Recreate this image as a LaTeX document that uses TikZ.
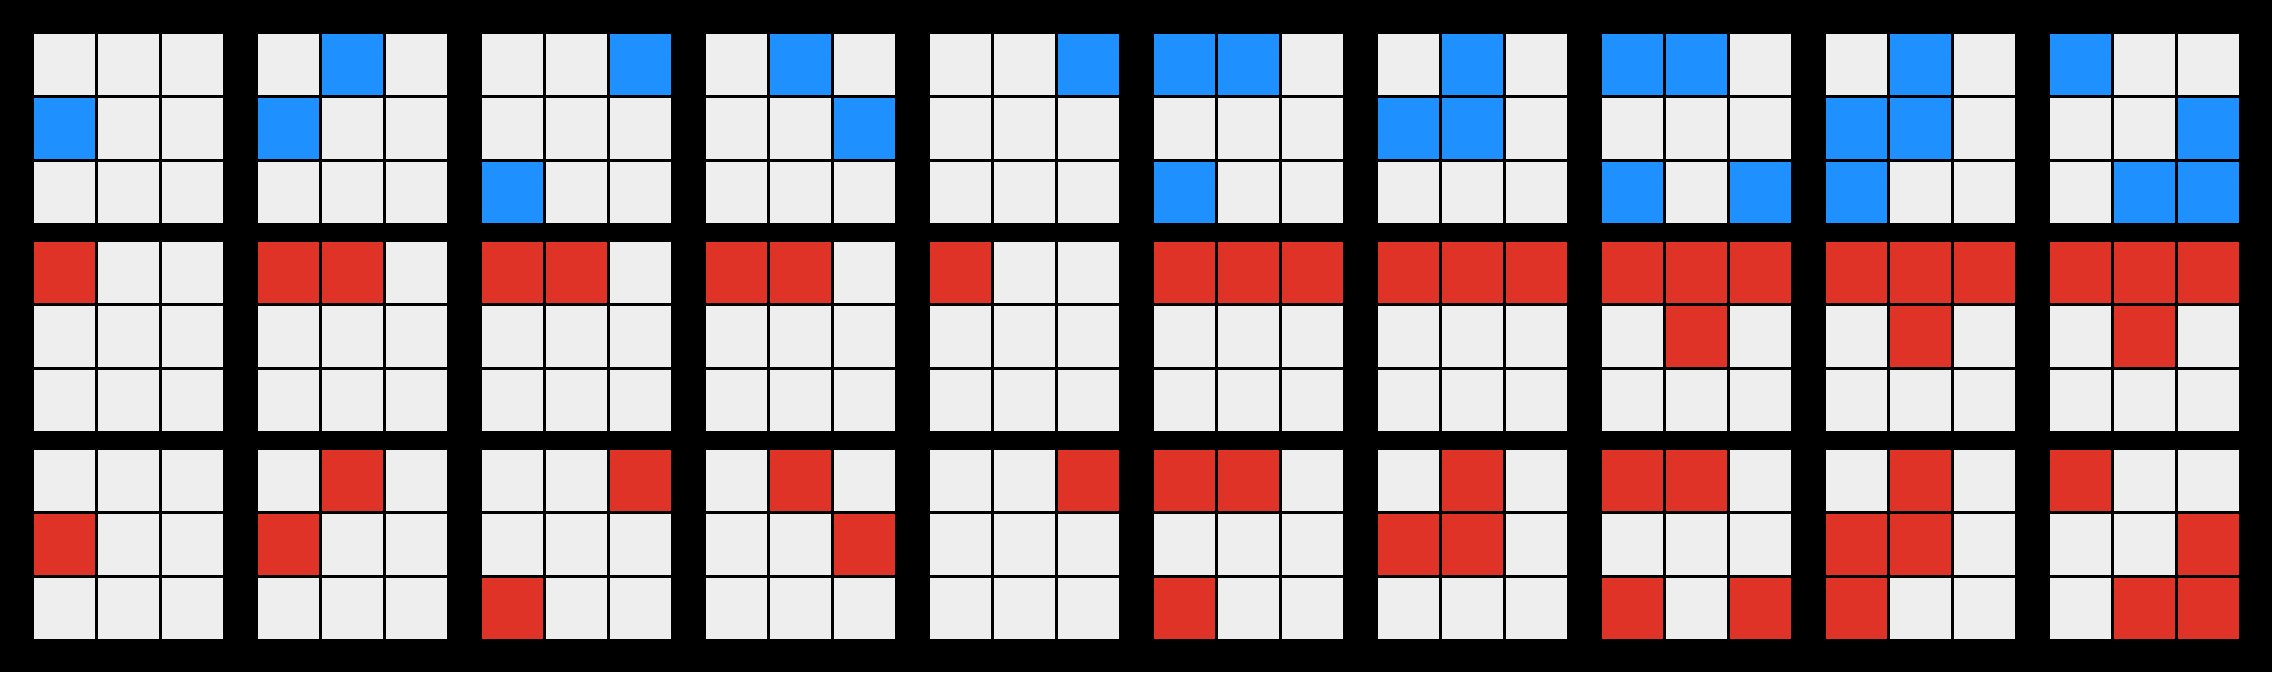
\documentclass[tikz,border=0pt]{standalone}
\definecolor{cellgray}{HTML}{EEEEEE}
\definecolor{cellblue}{HTML}{1E90FF}
\definecolor{cellred}{HTML}{DF3328}
\newcommand\pcell[5]{% grid-row, grid-col, r, c, colour
  \fill[#5] ({34+224*(#2)+64*(#4)},{34+208*(#1)+64*(#3)}) rectangle ++(61,61);}
\begin{document}
\begin{tikzpicture}[x=1pt,y=-1pt]
\fill[black] (0,0) rectangle (2272,672);
\useasboundingbox (0,0) rectangle (2272,672);
% empty cells
\foreach \R in {0,1,2}
  \foreach \g in {0,...,9}
    \foreach \r in {0,1,2}
      \foreach \c in {0,1,2}
        {\pcell{\R}{\g}{\r}{\c}{cellgray}}
% pattern for top (blue) and bottom (red) rows
\foreach \g/\r/\c in {0/1/0,
  1/0/1, 1/1/0,
  2/0/2, 2/2/0,
  3/0/1, 3/1/2,
  4/0/2,
  5/0/0, 5/0/1, 5/2/0,
  6/0/1, 6/1/0, 6/1/1,
  7/0/0, 7/0/1, 7/2/0, 7/2/2,
  8/0/1, 8/1/0, 8/1/1, 8/2/0,
  9/0/0, 9/1/2, 9/2/1, 9/2/2}
  {\pcell{0}{\g}{\r}{\c}{cellblue}
   \pcell{2}{\g}{\r}{\c}{cellred}}
% pattern for middle (red) row
\foreach \g/\r/\c in {0/0/0,
  1/0/0, 1/0/1,
  2/0/0, 2/0/1,
  3/0/0, 3/0/1,
  4/0/0,
  5/0/0, 5/0/1, 5/0/2,
  6/0/0, 6/0/1, 6/0/2,
  7/0/0, 7/0/1, 7/0/2, 7/1/1,
  8/0/0, 8/0/1, 8/0/2, 8/1/1,
  9/0/0, 9/0/1, 9/0/2, 9/1/1}
  {\pcell{1}{\g}{\r}{\c}{cellred}}
\end{tikzpicture}
\end{document}
